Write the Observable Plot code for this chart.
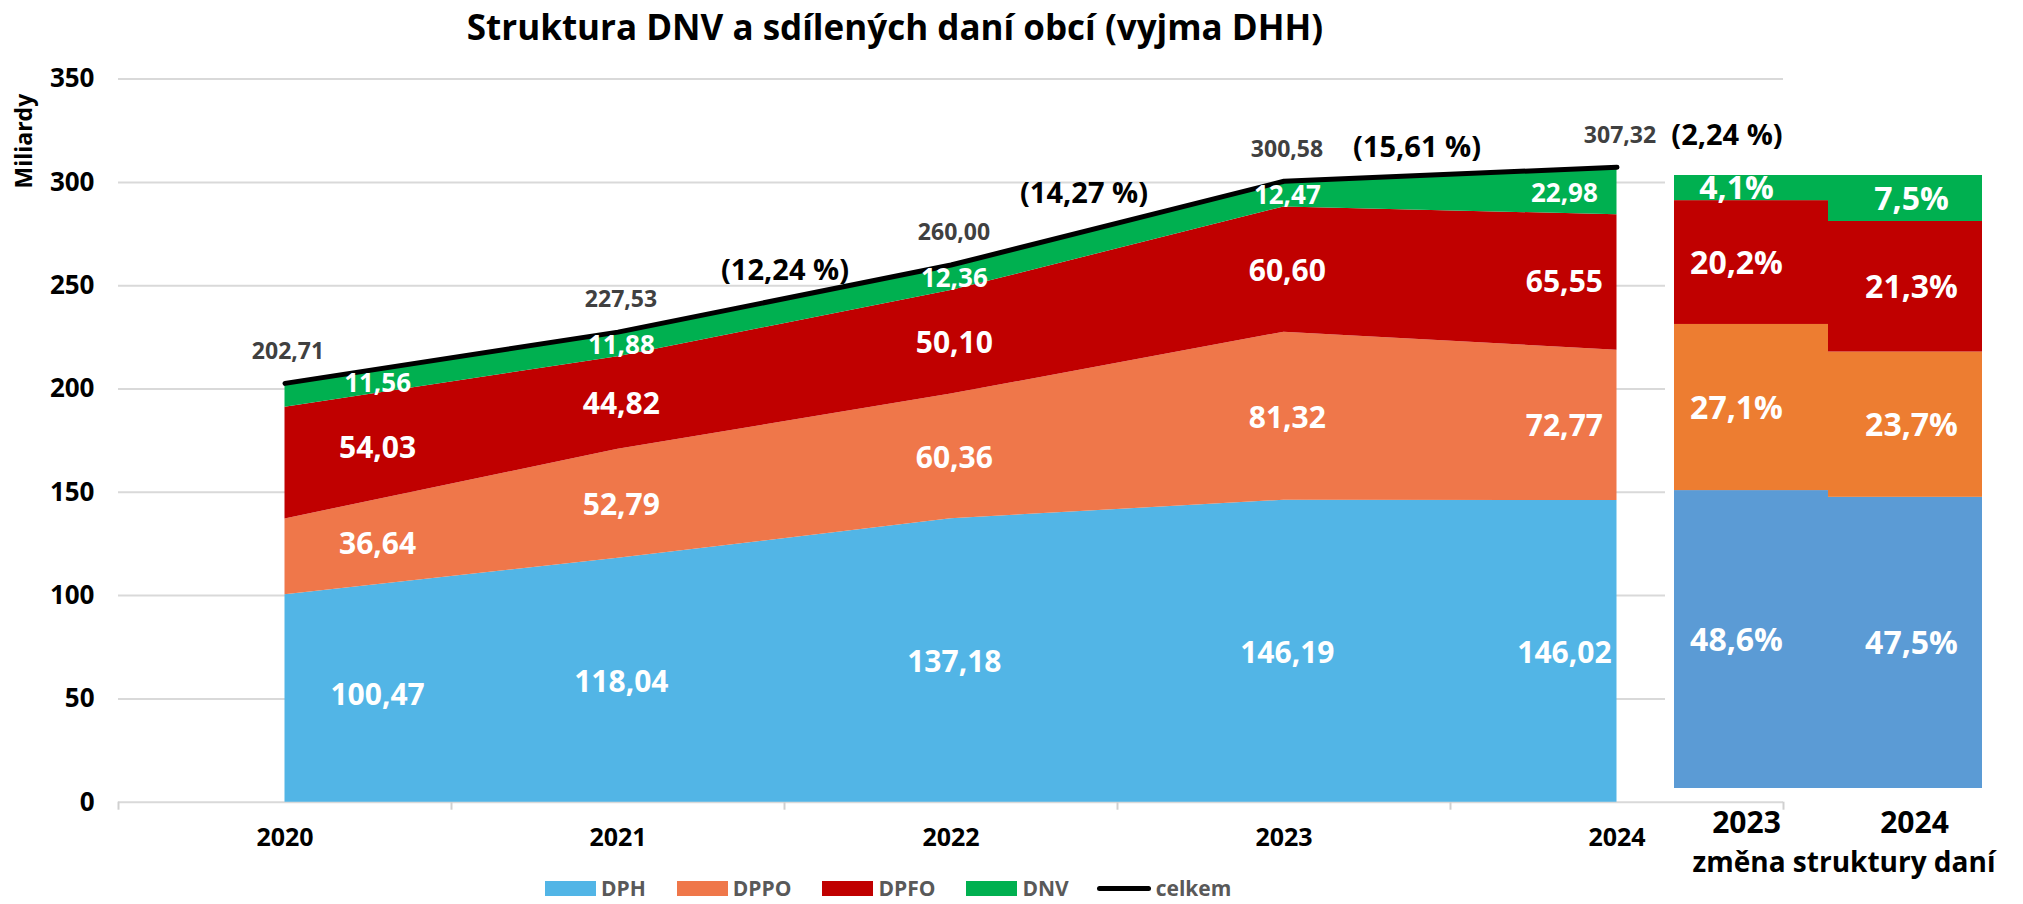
<!DOCTYPE html>
<html>
<head>
<meta charset="utf-8">
<script src="https://cdn.jsdelivr.net/npm/d3@7"></script>
<script src="https://cdn.jsdelivr.net/npm/@observablehq/plot@0.6"></script>
<style>
  html, body { margin: 0; padding: 0; background: white; }
  body { font-family: "Open Sans", sans-serif; }
  #wrap { position: relative; width: 2023px; height: 904px; background: white; }
  #title { position: absolute; left: 0; top: 5px; width: 1790px; text-align: center; font-size: 35px; font-weight: 700; color: #000; line-height: 44px; }
  #main { position: absolute; left: 0; top: 60px; }
  #panel { position: absolute; left: 1665px; top: 155px; }
  #legend { position: absolute; left: 545px; top: 875px; height: 26px; display: flex; align-items: center; font-size: 21px; line-height: 26px; font-weight: 700; color: #595959; }
  .item { display: flex; align-items: center; margin-right: 31px; height: 26px; }
  .item span { display: block; line-height: 26px; }
  .sw { width: 51px; height: 15px; margin-right: 5px; }
  .ln { width: 54px; height: 5px; border-radius: 3px; background: #000; margin-right: 5px; }
</style>
</head>
<body>
<div id="wrap">
  <div id="title"></div>
  <div id="main"></div>
  <div id="panel"></div>
  <div id="legend"></div>
</div>
<script>
// ---------- data ----------
const titleText = "Struktura DNV a sdílených daní obcí (vyjma DHH)";
const years = [2020, 2021, 2022, 2023, 2024];
const taxes = ["DPH", "DPPO", "DPFO", "DNV"];
const dph  = [100.47, 118.04, 137.18, 146.19, 146.02];
const dppo = [36.64, 52.79, 60.36, 81.32, 72.77];
const dpfo = [54.03, 44.82, 50.10, 60.60, 65.55];
const dnv  = [11.56, 11.88, 12.36, 12.47, 22.98];
const celkem = [202.71, 227.53, 260.00, 300.58, 307.32];
const growthLabels = ["(12,24 %)", "(14,27 %)", "(15,61 %)", "(2,24 %)"];
const yTicks = [0, 50, 100, 150, 200, 250, 300, 350];
const yLabel = "Miliardy";
const totalName = "celkem";

const structYears = ["2023", "2024"];
const structDPH  = [48.6, 47.5];
const structDPPO = [27.1, 23.7];
const structDPFO = [20.2, 21.3];
const structDNV  = [4.1, 7.5];
const structLabel = "změna struktury daní";

// ---------- styles ----------
const areaColors = ["#52B5E6", "#EF774A", "#C00000", "#00B050"];
const barColors  = ["#5B9BD5", "#ED7D31", "#C00000", "#00B050"];
const FONT = "'Open Sans', sans-serif";
const fmt = v => v.toFixed(2).replace(".", ",");
const fmtPct = v => v.toFixed(1).replace(".", ",") + "%";

document.getElementById("title").textContent = titleText;

// ---------- main chart ----------
const series = [dph, dppo, dpfo, dnv];
const areaData = [];
years.forEach((yr, i) => taxes.forEach((t, k) => areaData.push({year: yr, tax: t, value: series[k][i]})));
const totalData = years.map((yr, i) => ({year: yr, value: celkem[i]}));

// cumulative stacks for label placement
const cumHi = taxes.map((t, k) => years.map((yr, i) => series.slice(0, k + 1).reduce((s, a) => s + a[i], 0)));
const cumLo = taxes.map((t, k) => years.map((yr, i) => series.slice(0, k).reduce((s, a) => s + a[i], 0)));
const labelShift = {2020: 0.278, 2024: -0.158};
const lerp = (a, b, f) => a + (b - a) * f;
const segLabels = [];
years.forEach((yr, i) => taxes.forEach((t, k) => {
  const xv = yr + (labelShift[yr] ?? 0.01);
  const j = Math.min(Math.floor(xv - years[0]), years.length - 2);
  const f = xv - years[0] - j;
  const lo = lerp(cumLo[k][j], cumLo[k][j + 1], f);
  const hi = lerp(cumHi[k][j], cumHi[k][j + 1], f);
  segLabels.push({x: xv, y: (lo + hi) / 2, text: fmt(series[k][i]), tax: t});
}));

// growth labels anchored at the later year's total
const growthAnchor = [2, 3, 4, 4];
const growthOffsets = [[-166, 6], [-200, 12.5], [-200, -19.6], [110, -31.6]];
const growthMarks = growthLabels.map((g, i) =>
  Plot.text([totalData[growthAnchor[i]]], {
    x: "year", y: "value", text: () => g,
    dx: growthOffsets[i][0], dy: growthOffsets[i][1],
    fontSize: 29, fontWeight: 700, fill: "#000"
  })
);

const bounds = d3.range(years[0] - 0.5, years[years.length - 1] + 1, 1);

const main = Plot.plot({
  width: 2023, height: 800,
  marginLeft: 118, marginRight: 240, marginTop: 18.6, marginBottom: 58.3,
  style: {fontFamily: FONT, background: "transparent", overflow: "visible"},
  x: {type: "linear", domain: [years[0] - 0.5, years[years.length - 1] + 0.5], label: null},
  y: {domain: [0, 350], label: null},
  color: {domain: taxes, range: areaColors},
  marks: [
    Plot.ruleY(yTicks.filter(d => d > 0), {stroke: "#d9d9d9", strokeWidth: 2}),
    Plot.ruleY([0], {stroke: "#d9d9d9", strokeWidth: 2}),
    Plot.axisX({ticks: bounds, tickSize: 8, stroke: "#d0d0d0", strokeWidth: 2, fill: "none", label: null, tickFormat: () => ""}),
    Plot.axisX({ticks: years, tickSize: 0, tickPadding: 26, tickFormat: d => String(d), fontSize: 25, fontWeight: 700, fill: "#000", label: null}),
    Plot.axisY({ticks: yTicks, tickSize: 0, tickPadding: 24, tickFormat: d => String(d), fontSize: 26, fontWeight: 700, fill: "#000", label: null}),
    Plot.text([yLabel], {frameAnchor: "top-left", text: d => d, rotate: -90, dx: -94, dy: 62, textAnchor: "middle", lineAnchor: "middle", fontSize: 23, fontWeight: 700, fill: "#000"}),
    Plot.areaY(areaData, {x: "year", y: "value", fill: "tax", order: taxes}),
    Plot.lineY(totalData, {x: "year", y: "value", stroke: "#000", strokeWidth: 5, strokeLinecap: "round", strokeLinejoin: "round"}),
    Plot.text(segLabels.filter(d => d.tax !== "DNV"), {x: "x", y: "y", text: "text", fill: "white", fontSize: 30, fontWeight: 700, dy: 2}),
    Plot.text(segLabels.filter(d => d.tax === "DNV"), {x: "x", y: "y", text: "text", fill: "white", fontSize: 26, fontWeight: 700, dy: 2}),
    Plot.text(totalData, {x: "year", y: "value", text: d => fmt(d.value), dx: 3, dy: -32, fill: "#404040", fontSize: 23, fontWeight: 700}),
    ...growthMarks
  ]
});
document.getElementById("main").appendChild(main);

// ---------- structure panel ----------
const structSeries = [structDPH, structDPPO, structDPFO, structDNV];
const structData = [];
structYears.forEach((yr, i) => taxes.forEach((t, k) => structData.push({year: yr, tax: t, value: structSeries[k][i]})));
const panelDx = {"2023": -15, "2024": 6};
const panelTickDx = {"2023": -5, "2024": 9};

const panel = Plot.plot({
  width: 358, height: 645,
  marginLeft: 8, marginRight: 41, marginTop: 20, marginBottom: 12,
  style: {fontFamily: FONT, background: "white", overflow: "visible"},
  x: {type: "band", domain: structYears, padding: 0, label: null, axis: null},
  y: {domain: [0, 100], label: null, axis: null},
  color: {domain: taxes, range: barColors},
  marks: [
    Plot.barY(structData, {x: "year", y: "value", fill: "tax", order: taxes, inset: 0}),
    ...structYears.map(yr => Plot.text(structData.filter(d => d.year === yr), Plot.stackY({
      x: "year", y: "value", z: "tax", order: taxes, text: d => fmtPct(d.value),
      fill: "white", fontSize: 32, fontWeight: 700, dx: panelDx[yr], dy: 1
    }))),
    ...structYears.map(yr => Plot.text([yr], {x: d => d, frameAnchor: "bottom", text: d => d, dx: panelTickDx[yr], dy: 35, lineAnchor: "middle", fontSize: 30, fontWeight: 700, fill: "#000"})),
    Plot.text([structLabel], {frameAnchor: "bottom", text: d => d, dx: 16, dy: 75, lineAnchor: "middle", fontSize: 28, fontWeight: 700, fill: "#000"})
  ]
});
document.getElementById("panel").appendChild(panel);

// ---------- legend ----------
const legend = document.getElementById("legend");
taxes.forEach((t, k) => {
  const it = document.createElement("div");
  it.className = "item";
  it.innerHTML = `<div class="sw" style="background:${areaColors[k]}"></div><span>${t}</span>`;
  legend.appendChild(it);
});
const it = document.createElement("div");
it.className = "item";
it.style.marginLeft = "-3px";
it.innerHTML = `<div class="ln"></div><span>${totalName}</span>`;
legend.appendChild(it);
</script>
</body>
</html>
